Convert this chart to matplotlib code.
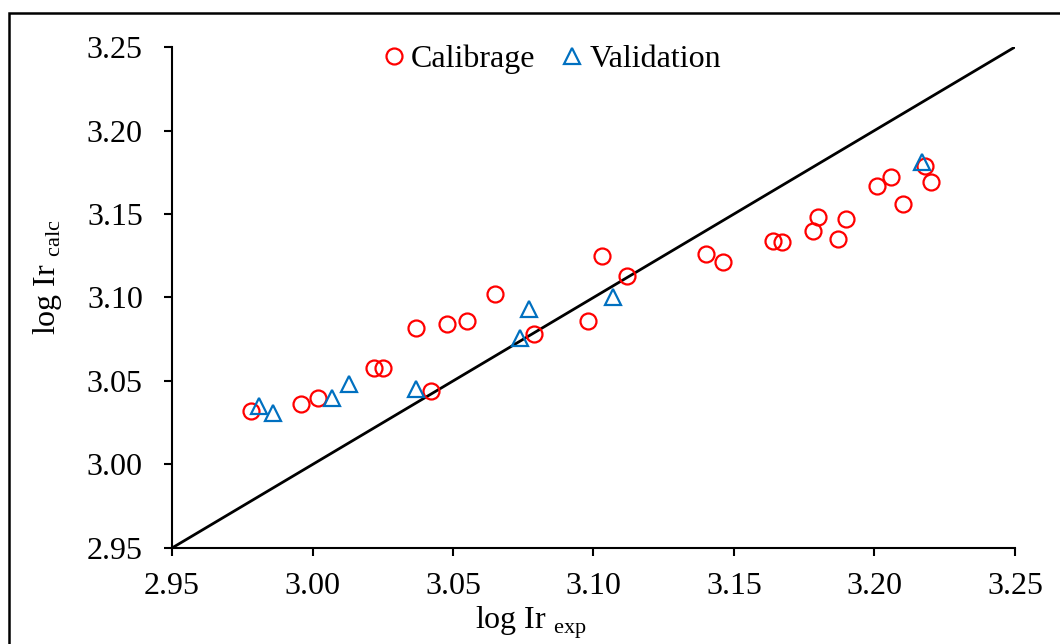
import matplotlib
matplotlib.use("Agg")
import matplotlib.pyplot as plt
from matplotlib.patches import Rectangle

plt.rcParams["font.family"] = ["Liberation Serif", "DejaVu Serif"]
plt.rcParams["mathtext.fontset"] = "custom"
plt.rcParams["mathtext.rm"] = "Liberation Serif"

# Calibration set (log Ir experimental vs calculated)
calib_x = [2.978, 2.996, 3.002, 3.022, 3.025, 3.037, 3.042, 3.048, 3.055, 3.065,
           3.079, 3.098, 3.103, 3.112, 3.140, 3.146, 3.164, 3.167, 3.178, 3.180,
           3.187, 3.190, 3.201, 3.206, 3.210, 3.218, 3.220]
calib_y = [3.032, 3.036, 3.040, 3.058, 3.058, 3.082, 3.044, 3.084, 3.086, 3.102,
           3.078, 3.086, 3.125, 3.113, 3.126, 3.121, 3.134, 3.133, 3.140, 3.148,
           3.135, 3.147, 3.167, 3.172, 3.156, 3.179, 3.169]

# Validation set
valid_x = [2.981, 2.986, 3.007, 3.013, 3.037, 3.077, 3.074, 3.107, 3.217]
valid_y = [3.035, 3.031, 3.040, 3.048, 3.045, 3.093, 3.076, 3.100, 3.181]

lims = [2.95, 3.25]
ticks = [2.95, 3.00, 3.05, 3.10, 3.15, 3.20, 3.25]

fig = plt.figure(figsize=(10.6, 6.44), dpi=100)
ax = fig.add_axes([0.1623, 0.1491, 0.7952, 0.7779])

ax.plot(lims, lims, color="black", lw=2.0, zorder=1)
ax.plot(calib_x, calib_y, "o", ms=11.5, mfc="none", mec="#FF0000", mew=1.6,
        label="Calibrage", zorder=3)
ax.plot(valid_x, valid_y, "^", ms=11.5, mfc="none", mec="#0070C0", mew=1.6,
        label="Validation", zorder=3)

ax.set_xlim(lims)
ax.set_ylim(lims)
ax.set_xticks(ticks)
ax.set_yticks(ticks)
ax.set_xticklabels([f"{t:.2f}" for t in ticks])
ax.set_yticklabels([f"{t:.2f}" for t in ticks])

for s in ["top", "right"]:
    ax.spines[s].set_visible(False)
for s in ["left", "bottom"]:
    ax.spines[s].set_linewidth(1.5)
ax.tick_params(axis="both", direction="out", length=6, width=1.5, labelsize=23)
ax.tick_params(axis="x", pad=11)
ax.tick_params(axis="y", pad=15)

ax.set_xlabel(r"log Ir $_{\mathregular{exp}}$", fontsize=23)
ax.xaxis.set_label_coords(0.426, -0.113)
ax.xaxis.label.set_va("top")
ax.set_ylabel(r"log Ir $_{\mathregular{calc}}$", fontsize=23)
ax.yaxis.set_label_coords(-0.148, 0.54)
ax.yaxis.label.set_va("center")

ax.legend(loc="upper center", bbox_to_anchor=(0.447, 1.062), ncol=2, frameon=False,
          fontsize=23, handletextpad=0.0, columnspacing=0.6, handlelength=1.1)

# outer frame around the chart
fig.patches.append(Rectangle((8.5 / 1060, -0.1), 1.2, 1.1 - 13 / 644,
                             transform=fig.transFigure, fill=False,
                             edgecolor="black", lw=1.8))

fig.savefig("out.png", dpi=100)
